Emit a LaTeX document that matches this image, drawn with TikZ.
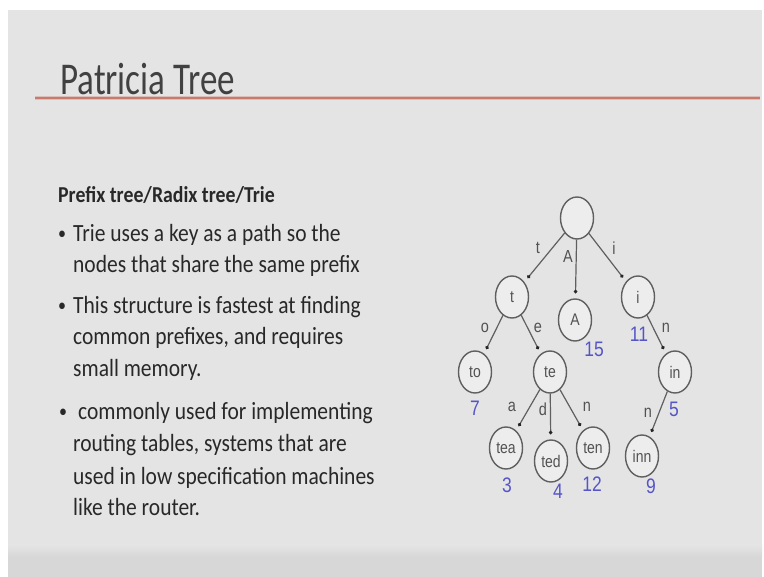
\documentclass[tikz,border=0pt]{standalone}
\usepackage{fontspec}
\usepackage{graphicx}
\setmainfont{Carlito}
\newfontfamily\arialf{Liberation Sans}
\usetikzlibrary{shapes.geometric,arrows.meta}
\definecolor{slidebg}{RGB}{229,228,229}
\definecolor{bandbg}{RGB}{215,215,215}
\definecolor{titlecol}{RGB}{65,65,65}
\definecolor{bodycol}{RGB}{40,40,40}
\definecolor{rulecol}{RGB}{200,122,108}
\definecolor{nodecol}{RGB}{95,95,95}
\definecolor{numcol}{RGB}{85,85,200}
\newcommand{\tallt}[1]{\scalebox{1}[1.3]{#1}}
\newcommand{\tallb}[1]{\scalebox{1}[1.15]{#1}}
\newcommand{\talln}[1]{\scalebox{1}[1.2]{#1}}
\begin{document}
\begin{tikzpicture}[x=1pt,y=-1pt,
  titletext/.style={anchor=base west, inner sep=0, text=titlecol, font=\fontsize{35}{40}\selectfont},
  bodytext/.style={anchor=base west, inner sep=0, text=bodycol, font=\fontsize{21.5}{26}\selectfont},
  bullettext/.style={anchor=base west, inner sep=0, text=bodycol, font=\fontsize{16}{20}\selectfont},
  headtext/.style={anchor=base west, inner sep=0, text=bodycol, font=\fontsize{19.8}{24}\selectfont\bfseries},
  tnode/.style={ellipse, draw=nodecol, line width=1.4pt, fill=white!35!slidebg, minimum width=33pt, minimum height=42pt, inner sep=0, text=black!68, font=\arialf\fontsize{14}{16}\selectfont},
  elabel/.style={inner sep=0, text=black!68, font=\arialf\fontsize{14.5}{16}\selectfont},
  numlabel/.style={inner sep=0, text=numcol, font=\arialf\fontsize{17.5}{20}\selectfont},
  edge/.style={draw=nodecol, line width=1.2pt, -{Circle[length=3.5pt,color=black!85]}, shorten >=5pt}
]
\useasboundingbox (0,0) rectangle (764,577);
% background
\fill[white] (0,0) rectangle (764,577);
\fill[slidebg] (8,10) rectangle (762,577);
\shade[top color=slidebg, bottom color=bandbg] (8,545) rectangle (762,557);
\fill[bandbg] (8,557) rectangle (762,577);
% title rule
\draw[rulecol!35!slidebg, line width=4.5pt] (35,98) -- (760,98);
\draw[rulecol, line width=2.2pt] (35,98) -- (760,98);
\node[titletext] (title) at (60,95) {\tallt{Patricia Tree}};
% body text
\node[headtext] (head) at (58,203) {\tallb{Prefix tree/Radix tree/Trie}};
\node[bullettext] (b1) at (58,240) {\tallb{•}};
\node[bodytext] (l1) at (73,242) {\tallb{Trie uses a key as a path so the}};
\node[bodytext] (l2) at (73,273) {\tallb{nodes that share the same prefix}};
\node[bullettext] (b2) at (58,312) {\tallb{•}};
\node[bodytext] (l3) at (73,314) {\tallb{This structure is fastest at finding}};
\node[bodytext] (l4) at (73,345) {\tallb{common prefixes, and requires}};
\node[bodytext] (l5) at (73,377) {\tallb{small memory.}};
\node[bullettext] (b3) at (59,418) {\tallb{•}};
\node[bodytext] (l6) at (78,420) {\tallb{commonly used for implementing}};
\node[bodytext] (l7) at (73,452) {\tallb{routing tables, systems that are}};
\node[bodytext] (l8) at (73,485) {\tallb{used in low specification machines}};
\node[bodytext] (l9) at (73,515) {\tallb{like the router.}};
% tree nodes
\node[tnode] (root) at (577,218) {};
\node[tnode] (t) at (512,297) {\talln{t}};
\node[tnode] (A) at (575,320) {\talln{A}};
\node[tnode] (i) at (638,297) {\talln{i}};
\node[tnode] (to) at (475,372) {\talln{to}};
\node[tnode] (te) at (550,372) {\talln{te}};
\node[tnode] (in) at (675,372) {\talln{in}};
\node[tnode] (tea) at (506,448) {\talln{tea}};
\node[tnode] (ted) at (551,461) {\talln{ted}};
\node[tnode] (ten) at (593,448) {\talln{ten}};
\node[tnode] (inn) at (642,456) {\talln{inn}};
% edges
\draw[edge] (root) -- (t);
\draw[edge] (root) -- (A);
\draw[edge] (root) -- (i);
\draw[edge] (t) -- (to);
\draw[edge] (t) -- (te);
\draw[edge] (i) -- (in);
\draw[edge] (te) -- (tea);
\draw[edge] (te) -- (ted);
\draw[edge] (te) -- (ten);
\draw[edge] (in) -- (inn);
% edge labels
\node[elabel] (lt) at (538,248) {\talln{t}};
\node[elabel] (lA) at (568,257) {\talln{A}};
\node[elabel] (li) at (614,248) {\talln{i}};
\node[elabel] (lo) at (485,328) {\talln{o}};
\node[elabel] (le) at (538,328) {\talln{e}};
\node[elabel] (ln1) at (666,328) {\talln{n}};
\node[elabel] (la) at (512,407) {\talln{a}};
\node[elabel] (ld) at (543,409) {\talln{d}};
\node[elabel] (ln2) at (587,407) {\talln{n}};
\node[elabel] (ln3) at (648,413) {\talln{n}};
% numbers
\node[numlabel] (n15) at (594,349) {\talln{15}};
\node[numlabel] (n11) at (639,334) {\talln{11}};
\node[numlabel] (n7) at (475,408) {\talln{7}};
\node[numlabel] (n5) at (674,409) {\talln{5}};
\node[numlabel] (n3) at (507,485) {\talln{3}};
\node[numlabel] (n4) at (558,491) {\talln{4}};
\node[numlabel] (n12) at (592,484) {\talln{12}};
\node[numlabel] (n9) at (651,486) {\talln{9}};
\end{tikzpicture}
\end{document}
